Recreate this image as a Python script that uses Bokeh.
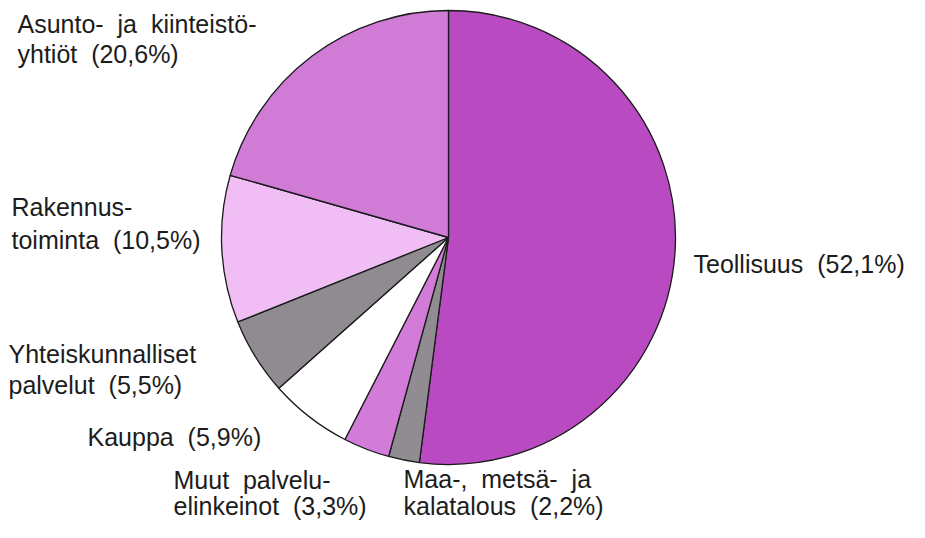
import math
from bokeh.plotting import figure
from bokeh.models import ColumnDataSource, Range1d
from bokeh.core.properties import value
from bokeh.embed import file_html
from bokeh.resources import INLINE

NB = "\u00a0"

# ---- data ----
categories = ["Teollisuus", "Maa-, metsä- ja kalatalous", "Muut palveluelinkeinot",
              "Kauppa", "Yhteiskunnalliset palvelut", "Rakennustoiminta",
              "Asunto- ja kiinteistöyhtiöt"]
shares = [52.1, 2.2, 3.3, 5.9, 5.5, 10.5, 20.6]
label_lines = [["Teollisuus"], ["Maa-, metsä- ja", "kalatalous"], ["Muut palvelu-", "elinkeinot"],
               ["Kauppa"], ["Yhteiskunnalliset", "palvelut"], ["Rakennus-", "toiminta"],
               ["Asunto- ja kiinteistö-", "yhtiöt"]]
colors = ["#b94ac1", "#908c92", "#d37bd9", "#ffffff", "#8f8b91", "#f0bdf4", "#d07cd7"]

# ---- layout (picture pixel coords, top-left origin) ----
W, H = 909, 522
cx, cy, r = 448, 237, 227
label_anchor = [(693, 272), (403, 487), (173, 488), (87, 445), (8, 362), (11, 215), (17, 32)]
line_gaps = [30, 27, 26, 30, 31, 33, 30]
baseline_fix = 9  # rendered text sits lower than the requested baseline

def Y(py):
    return 538 - py

total = sum(shares)
starts, ends = [], []
cum = 0.0
for s in shares:
    starts.append(math.pi / 2 - 2 * math.pi * (cum + s) / total)
    ends.append(math.pi / 2 - 2 * math.pi * cum / total)
    cum += s

src = ColumnDataSource(dict(cat=categories, share=shares, start=starts, end=ends, color=colors))

p = figure(width=W, height=H, output_backend="svg", toolbar_location=None,
           x_range=Range1d(0, W), y_range=Range1d(538 - H, 538),
           min_border=0, background_fill_color="white", border_fill_color="white")
p.axis.visible = False
p.grid.visible = False
p.outline_line_color = None

p.wedge(x=cx, y=Y(cy), radius=r, start_angle="start", end_angle="end",
        direction="anticlock", fill_color="color", line_color="#1a1a1a", line_width=1.3,
        source=src)

tx, ty, tt = [], [], []
for lines, s, (ax, ay), gap in zip(label_lines, shares, label_anchor, line_gaps):
    pct = f"{s:.1f}".replace(".", ",")
    for i, ln in enumerate(lines):
        txt = ln.replace(" ", NB + " ")
        if i == len(lines) - 1:
            txt = txt + NB + NB + f"({pct}%)"
        tx.append(ax)
        ty.append(Y(ay + i * gap) + baseline_fix)
        tt.append(txt)

p.text(x=tx, y=ty, text=tt, text_font=value("Liberation Sans"), text_font_size="25px",
       text_color="#1c1c1c", text_align="left", text_baseline="alphabetic")

open("out.html", "w").write(file_html(p, INLINE))
